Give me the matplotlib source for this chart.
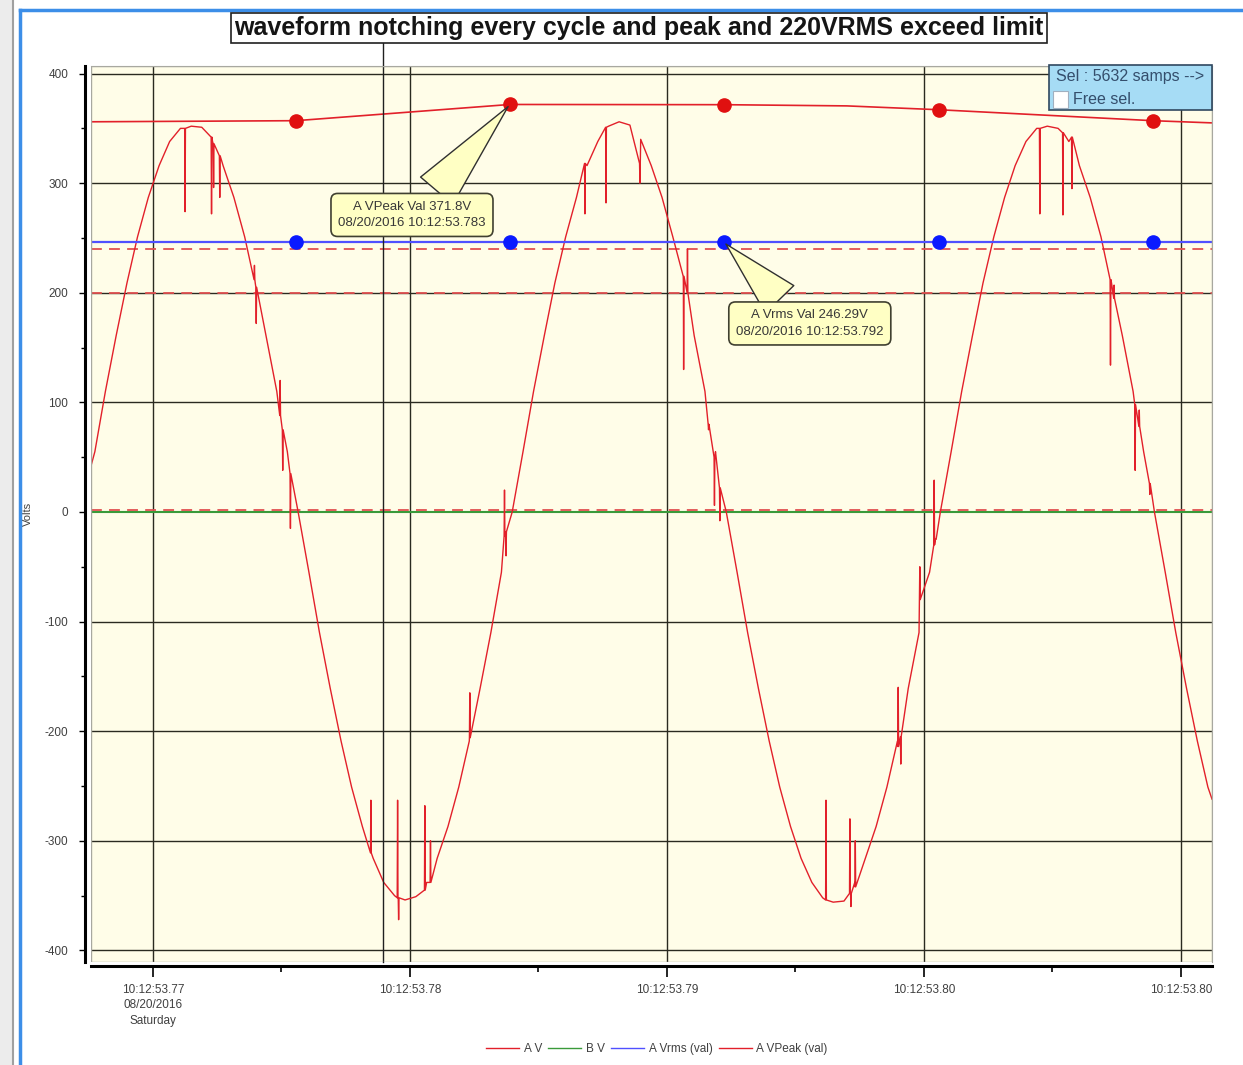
import matplotlib.pyplot as plt
import matplotlib.patches as mpatches
from matplotlib.lines import Line2D
from matplotlib.ticker import MultipleLocator

# time axis in ms after 10:12:53
# A V waveform, base samples
wave_t = [767.59, 767.74, 768.15, 768.57, 768.99, 769.40, 769.82, 770.24, 770.65, 771.07,
          771.49, 771.90, 772.32, 772.73, 773.15, 773.57, 773.98, 774.40, 774.82, 775.23,
          775.65, 776.07, 776.48, 776.90, 777.32, 777.73, 778.15, 778.57, 778.98, 779.40,
          779.81, 780.23, 780.65, 781.06, 781.48, 781.90, 782.31, 782.73, 783.15, 783.56,
          783.98, 784.40, 784.81, 785.23, 785.64, 786.06, 786.48, 786.89, 787.31, 787.73,
          788.14, 788.56, 788.98, 789.39, 789.81, 790.23, 790.64, 791.06, 791.48, 791.89,
          792.31, 792.73, 793.14, 793.56, 793.98, 794.39, 794.81, 795.22, 795.64, 796.06,
          796.47, 796.89, 797.31, 797.72, 798.14, 798.56, 798.97, 799.39, 799.81, 800.22,
          800.64, 801.06, 801.47, 801.89, 802.30, 802.72, 803.14, 803.55, 803.97, 804.39,
          804.80, 805.22, 805.64, 806.05, 806.47, 806.89, 807.30, 807.72, 808.14, 808.55,
          808.97, 809.39, 809.80, 810.22, 810.64, 811.05, 811.21]
wave_v = [42, 55, 110, 161, 209, 251, 287, 316, 338, 350,
          352, 351, 338, 316, 287, 251, 209, 161, 110, 55,
          0, -55, -110, -161, -209, -251, -287, -316, -338, -350,
          -354, -351, -338, -316, -287, -251, -209, -161, -110, -55,
          0, 55, 110, 161, 209, 251, 287, 316, 338, 352,
          356, 353, 340, 316, 287, 251, 209, 161, 110, 55,
          0, -55, -110, -161, -209, -251, -287, -316, -338, -352,
          -356, -355, -338, -316, -287, -251, -209, -161, -110, -55,
          0, 55, 110, 161, 209, 251, 287, 316, 338, 350,
          352, 350, 338, 316, 287, 251, 209, 161, 110, 55,
          0, -55, -110, -161, -209, -251, -262]

# notches: time, level next to the notch, notch tip
notch_t = [771.25, 772.28, 772.36, 772.60, 773.95, 774.02, 774.95, 775.05, 775.35,
           778.48, 779.52, 779.56, 780.58, 780.80, 782.33, 783.68, 783.74,
           786.81, 787.63, 788.95, 790.65, 790.80, 791.62, 791.85, 792.06,
           796.19, 797.12, 797.16, 797.33, 799.00, 799.10, 799.84, 800.40, 800.46,
           804.51, 805.41, 805.76, 807.26, 807.40, 808.22, 808.38, 808.79]
notch_base = [350, 342, 336, 325, 212, 205, 88, 75, 35,
              -311, -352, -352, -345, -338, -206, -22, -18,
              318, 351, 318, 215, 200, 80, 50, 22,
              -354, -348, -348, -342, -214, -205, -80, -30, -25,
              350, 346, 342, 212, 195, 98, 78, 26]
notch_v = [274, 272, 296, 287, 225, 172, 120, 38, -15,
           -263, -263, -372, -268, -300, -165, 20, -40,
           272, 282, 300, 130, 240, 75, 6, -8,
           -263, -280, -360, -300, -160, -230, -50, 29, -25,
           272, 271, 295, 134, 207, 38, 93, 16]

# A Vrms / A VPeak per half cycle
dot_t = [775.56, 783.89, 792.22, 800.58, 808.91]
vrms = [246.29, 246.29, 246.29, 246.29, 246.29]
vpeak_t = [767.59, 775.56, 783.89, 792.22, 797.0, 800.58, 808.91, 811.21]
vpeak_v = [356.0, 357.0, 371.8, 371.6, 370.5, 367.0, 357.0, 355.0]
vpeak_dot = [357.0, 371.8, 371.6, 367.0, 357.0]

limit_lines = [240, 200, 0]
cursor_t = 778.95

tick_pos = [770, 780, 790, 800, 810]
tick_labels = ["10:12:53.77\n08/20/2016\nSaturday", "10:12:53.78", "10:12:53.79",
               "10:12:53.80", "10:12:53.80"]

# merge notches into the waveform
pts = list(zip(wave_t, wave_v))
for t, b, v in zip(notch_t, notch_base, notch_v):
    pts += [(t - 0.015, b), (t, v), (t + 0.015, b)]
pts.sort()
av_t = [p[0] for p in pts]
av_v = [p[1] for p in pts]

plt.rcParams["font.family"] = ["Liberation Sans", "DejaVu Sans"]
plt.rcParams["axes.unicode_minus"] = False
fig = plt.figure(figsize=(12.43, 10.65), dpi=100)
ax = fig.add_axes([91 / 1243, 1 - 962 / 1065, 1121 / 1243, 896 / 1065])
ax.set_facecolor("#fffde8")
ax.set_xlim(767.59, 811.21)
ax.set_ylim(-410.6, 406.9)

# grid
for y in range(-400, 401, 100):
    if y != 0:
        ax.axhline(y, color="#2a2a20", lw=1.0, zorder=1)
for x in tick_pos:
    ax.axvline(x, color="#2a2a20", lw=1.0, zorder=1)

ax.axhline(0, color="#3a9a3a", lw=1.5, zorder=2)
for y in limit_lines:
    ax.axhline(y + (1.5 if y == 0 else 0), color="#e05050", lw=1.3, dashes=(6, 4), zorder=3)

ax.plot(av_t, av_v, color="#e2202a", lw=1.0, zorder=4)
ax.axhline(vrms[0], color="#5050ff", lw=1.6, zorder=4)
ax.plot(dot_t, vrms, "o", color="#0a1aff", ms=9.5, zorder=6)
ax.plot(vpeak_t, vpeak_v, color="#e2202a", lw=1.2, zorder=4)
ax.plot(dot_t, vpeak_dot, "o", color="#e01010", ms=9.5, zorder=6)

ax.axvline(cursor_t, ymin=0, ymax=1.028, color="#202020", lw=1.0, clip_on=False, zorder=5)

# callouts
box_style = dict(boxstyle="round,pad=0.55,rounding_size=0.5", fc="#ffffc4", ec="#404030", lw=1.2)
ax.annotate("A VPeak Val 371.8V\n08/20/2016 10:12:53.783", xy=(dot_t[1], vpeak_dot[1]),
            xytext=(780.08, 271), ha="center", va="center", fontsize=9.5, color="#383838",
            linespacing=1.5, bbox=box_style,
            arrowprops=dict(arrowstyle="wedge,tail_width=3.2,shrink_factor=0.5", fc="#ffffc4",
                            ec="#303030", lw=1.0, relpos=(0.61, 1.0)), zorder=7)
ax.annotate("A Vrms Val 246.29V\n08/20/2016 10:12:53.792", xy=(dot_t[2], vrms[2]),
            xytext=(795.56, 172), ha="center", va="center", fontsize=9.5, color="#383838",
            linespacing=1.5, bbox=box_style,
            arrowprops=dict(arrowstyle="wedge,tail_width=3.0,shrink_factor=0.5", fc="#ffffc4",
                            ec="#303030", lw=1.0, relpos=(0.36, 1.0)), zorder=7)

# axes styling
ax.spines["left"].set_position(("outward", 4.5))
ax.spines["bottom"].set_position(("outward", 3))
ax.spines["left"].set_linewidth(2.2)
ax.spines["bottom"].set_linewidth(2.2)
ax.spines["top"].set_color("#a8a8a0")
ax.spines["right"].set_color("#a8a8a0")
ax.add_patch(mpatches.Rectangle((0, 0), 1, 1, transform=ax.transAxes, fill=False,
                                ec="#a8a8a0", lw=1.0, zorder=8))

ax.set_yticks(range(-400, 401, 100))
ax.yaxis.set_minor_locator(MultipleLocator(50))
ax.set_xticks(tick_pos)
ax.set_xticklabels(tick_labels, linespacing=1.35)
ax.xaxis.set_minor_locator(MultipleLocator(5))
ax.tick_params(axis="y", which="major", length=4, width=1, labelsize=8.5, labelcolor="#404040", pad=8)
ax.tick_params(axis="y", which="minor", length=3, width=1)
ax.tick_params(axis="x", which="major", length=8, width=1.2, labelsize=8.5, labelcolor="#404040", pad=5)
ax.tick_params(axis="x", which="minor", length=4, width=1.2)
ax.set_ylabel("Volts", fontsize=8, color="#404040", labelpad=8)

# title
fig.text(639 / 1243, 1 - 28 / 1065, "waveform notching every cycle and peak and 220VRMS exceed limit",
         ha="center", va="center", fontsize=18, fontweight="bold", color="#151515",
         bbox=dict(boxstyle="square,pad=0.12", fc="white", ec="#202020", lw=1.2))

# selection box
fig.add_artist(mpatches.Rectangle((1049 / 1243, 1 - 110 / 1065), 163 / 1243, 45 / 1065,
                                  transform=fig.transFigure, fc="#a6dcf5", ec="#304860", lw=1.2, zorder=10))
fig.add_artist(mpatches.Rectangle((1053 / 1243, 1 - 108 / 1065), 15 / 1243, 17 / 1065,
                                  transform=fig.transFigure, fc="white", ec="#a0b0c0", lw=0.8, zorder=11))
fig.text(1056 / 1243, 1 - 76 / 1065, "Sel : 5632 samps -->", fontsize=11.5, color="#344e6c",
         va="center", zorder=12)
fig.text(1073 / 1243, 1 - 99 / 1065, "Free sel.", fontsize=11.5, color="#344e6c", va="center", zorder=12)

# window frame
fig.add_artist(Line2D([20 / 1243, 20 / 1243], [0, 1 - 10 / 1065], color="#3c8ee8", lw=2.5))
fig.add_artist(Line2D([20 / 1243, 1], [1 - 10 / 1065, 1 - 10 / 1065], color="#3c8ee8", lw=2.5))
fig.add_artist(Line2D([13 / 1243, 13 / 1243], [0, 1], color="#a0a0a0", lw=1.5))
fig.add_artist(mpatches.Rectangle((0, 0), 12 / 1243, 1, transform=fig.transFigure, fc="#ececec", ec="none"))

# legend
handles = [Line2D([], [], color="#e2202a", lw=1), Line2D([], [], color="#3a9a3a", lw=1),
           Line2D([], [], color="#5050ff", lw=1), Line2D([], [], color="#e2202a", lw=1)]
fig.legend(handles, ["A V", "B V", "A Vrms (val)", "A VPeak (val)"], loc="center",
           bbox_to_anchor=(657 / 1243, 1 - 1049 / 1065), ncol=4, frameon=False, fontsize=8.5,
           handlelength=2.8, columnspacing=0.5, handletextpad=0.4, labelcolor="#404040")

fig.savefig("out.png", dpi=100)
